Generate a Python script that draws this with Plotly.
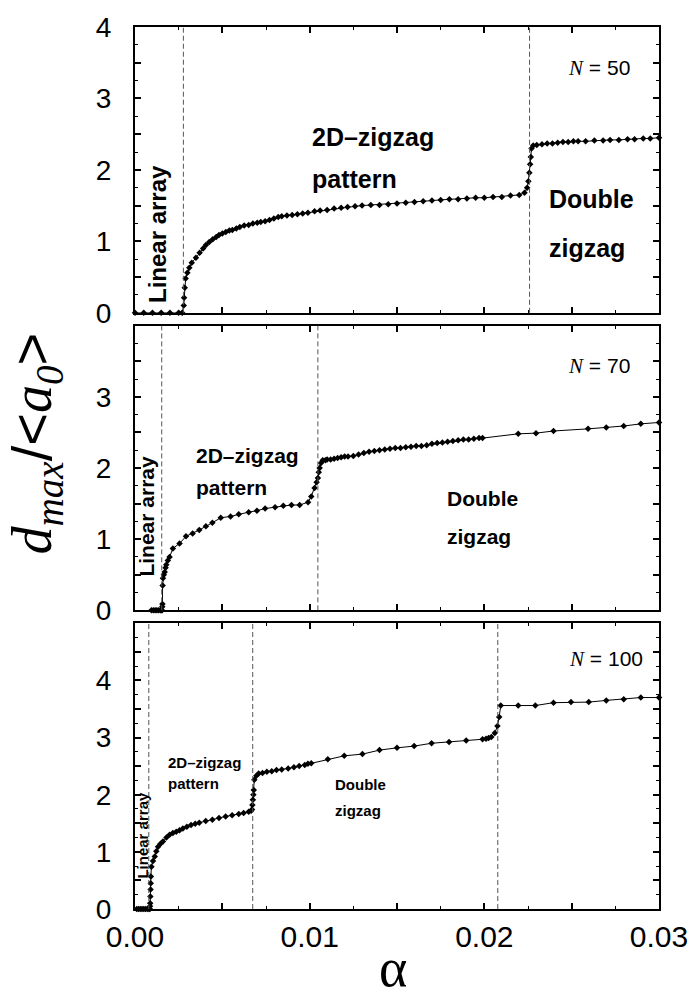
import plotly.graph_objects as go

# ---------------- data ----------------
# N = 50
x50 = [0.0000, 0.0005, 0.0010, 0.0015, 0.0020, 0.0025, 0.0027,
       0.00279, 0.00281, 0.00285, 0.00290, 0.00300, 0.00311, 0.00325, 0.00349, 0.00370,
       0.00390, 0.00406, 0.00425, 0.00445, 0.00465, 0.00481, 0.00500, 0.00520, 0.00540,
       0.00557, 0.00580, 0.00600, 0.00625, 0.00651, 0.00675, 0.00700, 0.00720, 0.00745,
       0.00770, 0.00795, 0.00820, 0.00840, 0.00870, 0.00900, 0.00930, 0.00960, 0.00990,
       0.01028, 0.01060, 0.01100, 0.01140, 0.01180, 0.01217, 0.01260, 0.01300, 0.01350,
       0.01400, 0.01450, 0.01500, 0.01550, 0.01600, 0.01650, 0.01700, 0.01750, 0.01800,
       0.01850, 0.01900, 0.01950, 0.02000, 0.02050, 0.02100, 0.02150, 0.02200, 0.02230,
       0.02245, 0.02252, 0.02258, 0.02262, 0.02266, 0.02270, 0.02280, 0.02300, 0.02330,
       0.02360, 0.02390, 0.02420, 0.02450, 0.02480, 0.02510, 0.02537, 0.02580, 0.02630,
       0.02680, 0.02720, 0.02770, 0.02820, 0.02860, 0.02910, 0.02950, 0.03000]
y50 = [0, 0, 0, 0, 0, 0, 0,
       0.10, 0.21, 0.35, 0.48, 0.56, 0.63, 0.70, 0.77, 0.84,
       0.90, 0.95, 0.99, 1.03, 1.06, 1.09, 1.11, 1.13, 1.15,
       1.16, 1.18, 1.20, 1.22, 1.23, 1.25, 1.26, 1.27, 1.28,
       1.30, 1.32, 1.34, 1.35, 1.36, 1.37, 1.38, 1.39, 1.40,
       1.42, 1.43, 1.44, 1.46, 1.47, 1.48, 1.49, 1.50, 1.51,
       1.51, 1.52, 1.53, 1.54, 1.55, 1.56, 1.57, 1.58, 1.59,
       1.59, 1.60, 1.61, 1.61, 1.62, 1.62, 1.64, 1.65, 1.68,
       1.75, 1.84, 1.96, 2.08, 2.18, 2.30, 2.34, 2.35, 2.36,
       2.37, 2.37, 2.38, 2.39, 2.39, 2.40, 2.40, 2.40, 2.41,
       2.41, 2.42, 2.42, 2.43, 2.43, 2.44, 2.44, 2.45]

# N = 70
x70 = [0.00094, 0.00105, 0.00115, 0.00125, 0.00135, 0.00145, 0.00150, 0.00155, 0.00156, 0.00157,
       0.00158, 0.00160, 0.00165, 0.00170, 0.00175, 0.00179, 0.00188, 0.00198, 0.00217, 0.00255,
       0.00292, 0.00330, 0.00368, 0.00406, 0.00443, 0.00491, 0.00547, 0.00594, 0.00651, 0.00698,
       0.00745, 0.00802, 0.00849, 0.00896, 0.00943, 0.00991, 0.01009, 0.01028, 0.01040, 0.01047,
       0.01052, 0.01057, 0.01065, 0.01075, 0.01090, 0.01100, 0.01120, 0.01140, 0.01160, 0.01180,
       0.01200, 0.01220, 0.01250, 0.01280, 0.01310, 0.01340, 0.01370, 0.01400, 0.01430, 0.01460,
       0.01490, 0.01520, 0.01550, 0.01580, 0.01610, 0.01640, 0.01670, 0.01700, 0.01730, 0.01760,
       0.01790, 0.01820, 0.01850, 0.01880, 0.01910, 0.01940, 0.01970, 0.01990,
       0.02194, 0.02296, 0.02396, 0.02594, 0.02698, 0.02798, 0.02896, 0.03000]
y70 = [0, 0, 0, 0, 0, 0, 0, 0, 0.05, 0.09,
       0.35, 0.45, 0.50, 0.54, 0.60, 0.64, 0.70, 0.75, 0.87, 0.94,
       1.04, 1.08, 1.13, 1.18, 1.23, 1.30, 1.32, 1.35, 1.38, 1.40,
       1.43, 1.45, 1.47, 1.48, 1.48, 1.52, 1.60, 1.72, 1.80, 1.86,
       1.94, 2.00, 2.07, 2.11, 2.11, 2.12, 2.12, 2.13, 2.14, 2.15,
       2.16, 2.16, 2.17, 2.19, 2.21, 2.23, 2.24, 2.25, 2.26, 2.27,
       2.28, 2.28, 2.29, 2.30, 2.31, 2.31, 2.32, 2.34, 2.35, 2.36,
       2.37, 2.38, 2.39, 2.40, 2.40, 2.41, 2.42, 2.42,
       2.48, 2.49, 2.52, 2.55, 2.57, 2.59, 2.62, 2.64]

# N = 100
x100 = [0.0001, 0.0002, 0.0003, 0.0004, 0.0005, 0.0006, 0.0007, 0.00080, 0.00085,
        0.00086, 0.00087, 0.00088, 0.00089, 0.00090, 0.00091, 0.00094, 0.00103, 0.00113, 0.00122,
        0.00132, 0.00146, 0.00160, 0.00180, 0.00198, 0.00217, 0.00236, 0.00255, 0.00274, 0.00297,
        0.00321, 0.00345, 0.00368, 0.00405, 0.00443, 0.00481, 0.00519, 0.00556, 0.00594, 0.00622,
        0.00651, 0.00665, 0.00670, 0.00672, 0.00675, 0.00678, 0.00680, 0.00683, 0.00695, 0.00708,
        0.00730, 0.00755, 0.00783, 0.00810, 0.00840, 0.00877, 0.00910, 0.00940, 0.00972, 0.00990,
        0.01009, 0.01104, 0.01198, 0.01302, 0.01400, 0.01500, 0.01598, 0.01698, 0.01798, 0.01896,
        0.01990, 0.02010, 0.02025, 0.02040, 0.02060, 0.02075, 0.02085, 0.02094, 0.02194, 0.02292,
        0.02396, 0.02496, 0.02598, 0.02698, 0.02798, 0.02896, 0.03000]
y100 = [0, 0, 0, 0, 0, 0, 0, 0, 0,
        0.05, 0.10, 0.22, 0.34, 0.45, 0.57, 0.74, 0.84, 0.92, 1.01,
        1.09, 1.14, 1.18, 1.25, 1.30, 1.33, 1.35, 1.38, 1.41, 1.44,
        1.47, 1.49, 1.51, 1.54, 1.56, 1.59, 1.62, 1.64, 1.66, 1.68,
        1.70, 1.72, 1.74, 1.82, 1.91, 2.00, 2.08, 2.26, 2.33, 2.37,
        2.38, 2.40, 2.41, 2.43, 2.44, 2.46, 2.48, 2.50, 2.52, 2.54,
        2.55, 2.62, 2.68, 2.71, 2.78, 2.82, 2.85, 2.90, 2.92, 2.95,
        2.97, 2.98, 2.99, 3.01, 3.08, 3.20, 3.36, 3.56, 3.56, 3.56,
        3.61, 3.62, 3.62, 3.65, 3.67, 3.70, 3.70]

# phase boundaries (dashed lines)
bounds50 = [0.00277, 0.02259]
bounds70 = [0.00153, 0.01047]
bounds100 = [0.00079, 0.00674, 0.02077]

x_tickvals = [0.0, 0.005, 0.01, 0.015, 0.02, 0.025, 0.03]
x_ticktext = ["0.00", " ", "0.01", " ", "0.02", " ", "0.03"]

panels = [
    dict(x=x50, y=y50, b=bounds50, ymax=4, ylabels=[0, 1, 2, 3, 4], N="50"),
    dict(x=x70, y=y70, b=bounds70, ymax=4, ylabels=[0, 1, 2, 3], N="70"),
    dict(x=x100, y=y100, b=bounds100, ymax=5, ylabels=[0, 1, 2, 3, 4], N="100"),
]

domains = [[0.676, 1.0], [0.3386, 0.6614], [0.0, 0.324]]

fig = go.Figure()
SANS = "Liberation Sans"
SERIF = "Liberation Serif"

for i, p in enumerate(panels):
    ax = "" if i == 0 else str(i + 1)
    fig.add_trace(go.Scatter(
        x=p["x"], y=p["y"], mode="lines+markers",
        line=dict(color="black", width=1),
        marker=dict(symbol="diamond", size=5, color="black"),
        xaxis="x" + ax, yaxis="y" + ax, showlegend=False, cliponaxis=False))
    yvals = [v * 0.5 for v in range(0, 2 * p["ymax"] + 1)]
    ytext = [str(int(v)) if (v == int(v) and int(v) in p["ylabels"]) else " " for v in yvals]
    fig.update_layout(**{
        "xaxis" + ax: dict(
            domain=[0, 1], range=[0, 0.03], anchor="y" + ax,
            tickmode="array", tickvals=x_tickvals,
            ticktext=x_ticktext,
            showticklabels=(i == 2),
            ticks="inside", ticklen=6, tickwidth=1.5, tickcolor="black",
            showline=True, linecolor="black", linewidth=2, mirror="ticks",
            showgrid=False, zeroline=False,
            tickfont=dict(family=SANS, size=30, color="black"),
            minor=dict(tickmode="linear", tick0=0, dtick=0.0025, ticks="inside",
                       ticklen=3, tickwidth=1, tickcolor="black"),
        ),
        "yaxis" + ax: dict(
            domain=domains[i], range=[0, p["ymax"]], anchor="x" + ax,
            tickmode="array", tickvals=yvals, ticktext=ytext,
            ticks="inside", ticklen=6, tickwidth=1.5, tickcolor="black",
            showline=True, linecolor="black", linewidth=2, mirror="ticks",
            showgrid=False, zeroline=False,
            tickfont=dict(family=SANS, size=28, color="black"),
            ticklabelstandoff=16,
            minor=dict(tickmode="linear", tick0=0, dtick=0.25, ticks="inside",
                       ticklen=3, tickwidth=1, tickcolor="black"),
        ),
    })
    for b in p["b"]:
        fig.add_shape(type="line", x0=b, x1=b, y0=0, y1=1,
                      xref="x" + ax, yref="y" + ax + " domain",
                      line=dict(color="#555555", width=1, dash="5px,3px"))

def ann(text, x, y, ax, size, angle=0, xanchor="left", bold=True, family=SANS):
    fig.add_annotation(text=("<b>%s</b>" % text) if bold else text,
                       x=x, y=y, xref="x" + ax, yref="y" + ax,
                       xanchor=xanchor, yanchor="middle", textangle=angle,
                       showarrow=False, font=dict(family=family, size=size, color="black"))

Nfmt = '<i style="font-family:Liberation Serif">N</i> = %s'

# panel 1
ann("Linear array", 0.00125, 1.10, "", 24, angle=-90, xanchor="center")
ann("2D\u2013zigzag", 0.0100, 2.46, "", 25)
ann("pattern", 0.0100, 1.87, "", 25)
ann("Double", 0.0236, 1.59, "", 25)
ann("zigzag", 0.0236, 0.91, "", 25)
ann(Nfmt % "50", 0.0247, 3.42, "", 21, bold=False)
# panel 2
ann("Linear array", 0.00068, 1.33, "2", 21, angle=-90, xanchor="center")
ann("2D\u2013zigzag", 0.0034, 2.18, "2", 21)
ann("pattern", 0.0034, 1.73, "2", 21)
ann("Double", 0.01777, 1.57, "2", 21)
ann("zigzag", 0.01777, 1.04, "2", 21)
ann(Nfmt % "70", 0.0247, 3.43, "2", 21, bold=False)
# panel 3
ann("Linear array", 0.00045, 1.30, "3", 15, angle=-90, xanchor="center")
ann("2D\u2013zigzag", 0.00175, 2.57, "3", 15)
ann("pattern", 0.00175, 2.19, "3", 15)
ann("Double", 0.01132, 2.17, "3", 15)
ann("zigzag", 0.01132, 1.72, "3", 15)
ann(Nfmt % "100", 0.02475, 4.375, "3", 21, bold=False)

# axis titles
fig.add_annotation(
    text='<i>d</i><sub><i>max</i></sub><span style="font-family:Liberation Sans">/&lt;</span><i>a</i><sub><i>0</i></sub><span style="font-family:Liberation Sans">&gt;</span>',
    xref="paper", yref="paper", x=-0.189, y=0.5276, xanchor="center", yanchor="middle",
    textangle=-90, showarrow=False, font=dict(family=SERIF, size=56, color="black"))
fig.add_annotation(text="\u03b1", xref="paper", yref="paper", x=0.4925, y=-0.1035,
                   xanchor="center", yanchor="bottom", showarrow=False,
                   font=dict(family=SERIF, size=54, color="black"))

fig.update_layout(width=700, height=1002, margin=dict(l=135, r=35, t=20, b=93),
                  paper_bgcolor="white", plot_bgcolor="white")

fig.write_html("out.html")
